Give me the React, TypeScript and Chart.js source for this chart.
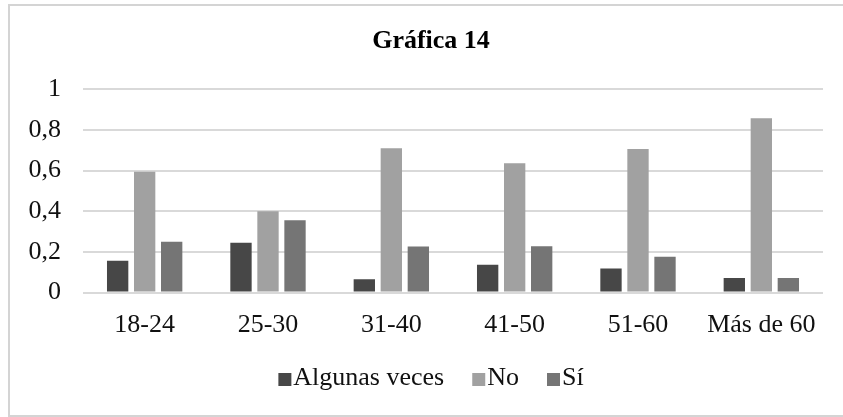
import React, { useEffect, useRef } from "react";
import { Chart, registerables } from "chart.js";

Chart.register(...registerables);

const categories = ["18-24", "25-30", "31-40", "41-50", "51-60", "Más de 60"];
const algunasVeces = [0.156, 0.245, 0.065, 0.136, 0.118, 0.071];
const noValues = [0.594, 0.4, 0.71, 0.636, 0.706, 0.857];
const siValues = [0.25, 0.355, 0.226, 0.227, 0.176, 0.071];
const yTicks = [0, 0.2, 0.4, 0.6, 0.8, 1];
const seriesColors = ["#474747", "#a1a1a1", "#757575"];

const FONT = "'Liberation Serif', 'Times New Roman', serif";

function legendSwatch(color: string): HTMLCanvasElement {
  // square swatch placed so the legend text sits close to it
  const c = document.createElement("canvas");
  c.width = 26;
  c.height = 24;
  const ctx = c.getContext("2d")!;
  ctx.fillStyle = color;
  ctx.fillRect(12, 7, 13, 13);
  return c;
}

export default function App() {
  const ref = useRef<HTMLCanvasElement | null>(null);

  useEffect(() => {
    if (!ref.current) return;
    const swatches = seriesColors.map(legendSwatch);
    const chart = new Chart(ref.current, {
      type: "bar",
      data: {
        labels: categories,
        datasets: [
          { label: "Algunas veces", data: algunasVeces, backgroundColor: seriesColors[0] },
          { label: "No", data: noValues, backgroundColor: seriesColors[1] },
          { label: "Sí", data: siValues, backgroundColor: seriesColors[2] },
        ],
      },
      options: {
        animation: false,
        responsive: false,
        devicePixelRatio: 1,
        layout: { padding: { left: 0, right: 0, top: 0, bottom: 14 } },
        datasets: {
          bar: { categoryPercentage: 0.657, barPercentage: 0.79 },
        },
        plugins: {
          tooltip: { enabled: false },
          title: {
            display: true,
            text: "Gráfica 14",
            color: "#000000",
            font: { family: FONT, size: 26, weight: "bold", lineHeight: 1.2 },
            padding: { top: 20, bottom: 32 },
          },
          legend: {
            display: true,
            position: "bottom",
            labels: {
              color: "#111111",
              font: { family: FONT, size: 26, lineHeight: 1.2 },
              usePointStyle: true,
              boxWidth: 2,
              boxHeight: 13,
              padding: 28,
              generateLabels: (ch: any) => {
                const items = Chart.defaults.plugins.legend.labels.generateLabels(ch);
                return items.map((it: any, i: number) => ({ ...it, pointStyle: swatches[i] }));
              },
            },
          },
        },
        scales: {
          x: {
            grid: { display: false, drawTicks: false },
            border: { display: false },
            ticks: {
              color: "#111111",
              font: { family: FONT, size: 26, lineHeight: 1.2 },
              padding: 17,
              maxRotation: 0,
              autoSkip: false,
            },
            afterFit: (s: any) => {
              s.height = 44.5;
            },
          },
          y: {
            min: 0,
            max: 1,
            grid: { color: "#d9d9d9", lineWidth: 2, drawTicks: false },
            border: { display: false },
            afterBuildTicks: (s: any) => {
              s.ticks = yTicks.map((v) => ({ value: v }));
            },
            ticks: {
              color: "#111111",
              font: { family: FONT, size: 26, lineHeight: 1.2 },
              padding: 22,
              callback: (v: any) => String(Number(Number(v).toFixed(1))).replace(".", ","),
            },
            afterFit: (s: any) => {
              s.width = 73;
            },
          },
          yRight: {
            type: "linear",
            position: "right",
            display: true,
            grid: { display: false, drawTicks: false },
            border: { display: false },
            ticks: { display: false },
            afterFit: (s: any) => {
              s.width = 29;
            },
          },
        },
      },
    });
    return () => chart.destroy();
  }, []);

  return (
    <div style={{ position: "fixed", left: 0, top: 0, right: 0, bottom: 0, overflow: "hidden", background: "#fff" }}>
      <div
        style={{
          position: "absolute",
          left: 8,
          top: 4,
          width: 842,
          height: 409,
          border: "2px solid #d4d4d4",
          background: "#fff",
        }}
      >
        <canvas ref={ref} width={842} height={409} style={{ display: "block", width: 842, height: 409 }} />
      </div>
    </div>
  );
}
